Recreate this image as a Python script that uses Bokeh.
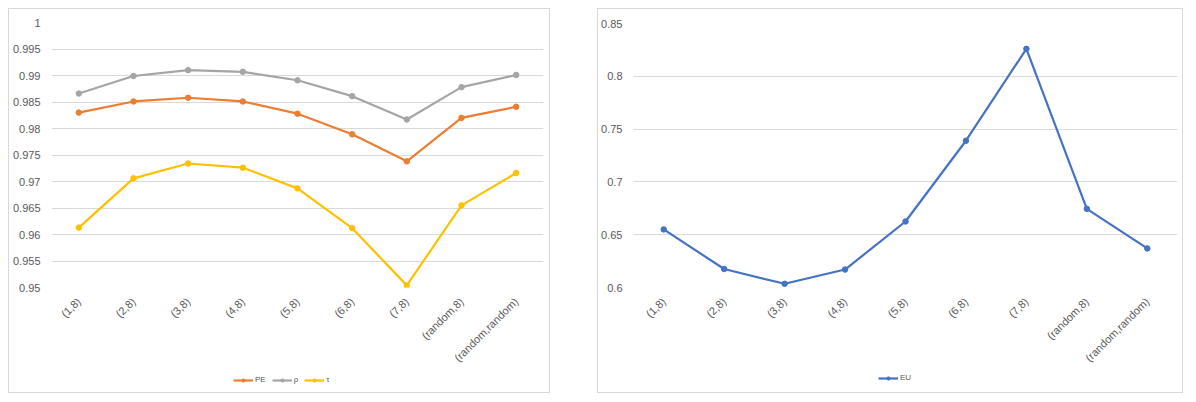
import math
from bokeh.plotting import figure
from bokeh.models import (Range1d, FixedTicker, CustomJSTickFormatter, Legend, LegendItem, Spacer)
from bokeh.layouts import row, column
from bokeh.embed import file_html
from bokeh.resources import INLINE

categories = ["(1,8)", "(2,8)", "(3,8)", "(4,8)", "(5,8)", "(6,8)", "(7,8)", "(random,8)", "(random,random)"]
pe_values = [0.9830, 0.9851, 0.9858, 0.9851, 0.9828, 0.9789, 0.9738, 0.9820, 0.9841]
rho_values = [0.9866, 0.9899, 0.9910, 0.9907, 0.9891, 0.9861, 0.9817, 0.9878, 0.9901]
tau_values = [0.9613, 0.9706, 0.9734, 0.9726, 0.9687, 0.9612, 0.9504, 0.9655, 0.9716]
eu_values = [0.655, 0.6175, 0.6035, 0.617, 0.6625, 0.739, 0.826, 0.6745, 0.637]

left_ticks = [0.95, 0.955, 0.96, 0.965, 0.97, 0.975, 0.98, 0.985, 0.99, 0.995, 1.0]
right_ticks = [0.6, 0.65, 0.7, 0.75, 0.8, 0.85]

FONT = "Liberation Sans"
GRID = "#d9d9d9"
TXT = "#595959"
BORDER = "1px solid #d9d9d9"

fmt = CustomJSTickFormatter(code="return String(Number(tick.toFixed(4)));")


def make_fig(width, height, yr, ticks, mbl, mbr, mbt):
    p = figure(x_range=categories, y_range=Range1d(*yr), width=width, height=height,
               output_backend="svg", toolbar_location=None,
               min_border_left=mbl, min_border_right=mbr, min_border_top=mbt, min_border_bottom=84)
    p.styles = {"border-top": BORDER, "border-left": BORDER, "border-right": BORDER,
                "box-sizing": "border-box"}
    p.outline_line_color = None
    p.xgrid.grid_line_color = None
    p.ygrid.grid_line_color = GRID
    p.ygrid.grid_line_width = 1
    p.yaxis.ticker = FixedTicker(ticks=ticks)
    p.yaxis.formatter = fmt
    for ax in (p.xaxis, p.yaxis):
        ax.axis_line_color = None
        ax.major_tick_line_color = None
        ax.minor_tick_line_color = None
        ax.major_tick_out = 0
        ax.major_tick_in = 0
        ax.minor_tick_out = 0
        ax.major_label_text_font = FONT
        ax.major_label_text_font_size = "11px"
        ax.major_label_text_color = TXT
    p.yaxis.major_label_standoff = 11
    p.xaxis.major_label_orientation = math.pi / 4
    p.xaxis.major_label_standoff = 12
    p.x_range.range_padding = 0
    return p


def series(p, vals, color):
    l = p.line(categories, vals, line_color=color, line_width=2.2, line_join="round")
    s = p.scatter(categories, vals, marker="circle", size=5.5, fill_color=color, line_color=color)
    return [l, s]


def legend_fig(width, height, entries, loc):
    # a strip below the chart that only carries the legend (its frame is aligned with the chart's)
    q = figure(x_range=categories, y_range=Range1d(10, 11), width=width, height=height,
               output_backend="svg", toolbar_location=None,
               x_axis_location=None, y_axis_location=None,
               min_border=0)
    q.styles = {"border-bottom": BORDER, "border-left": BORDER, "border-right": BORDER,
                "box-sizing": "border-box"}
    q.outline_line_color = None
    q.grid.visible = False
    items = [LegendItem(label=lab, renderers=series(q, vals, col)) for lab, vals, col in entries]
    lg = Legend(items=items, orientation="horizontal", location=loc,
                label_text_font=FONT, label_text_font_size="8px", label_text_color=TXT,
                glyph_width=20, glyph_height=8, label_standoff=2, spacing=6,
                label_width=4, padding=0, margin=0,
                border_line_color=None, background_fill_alpha=0, label_height=8)
    q.add_layout(lg, "center")
    return q


left_entries = [("PE", pe_values, "#ed7d31"), ("ρ", rho_values, "#a5a5a5"), ("τ", tau_values, "#ffc000")]
right_entries = [("EU", eu_values, "#4472c4")]

p1 = make_fig(542, 362, (0.95, 1.0), left_ticks, 42, 8, 13)
for lab, vals, col in left_entries:
    series(p1, vals, col)
l1 = legend_fig(542, 23, left_entries, (182, 9))

p2 = make_fig(586, 362, (0.6, 0.85), right_ticks, 32, 7, 14)
for lab, vals, col in right_entries:
    series(p2, vals, col)
l2 = legend_fig(586, 23, right_entries, (245, 11))

layout = column(Spacer(height=8),
                row(Spacer(width=8), column(p1, l1, spacing=0), Spacer(width=47), column(p2, l2, spacing=0)))
open("out.html", "w").write(file_html(layout, INLINE))
